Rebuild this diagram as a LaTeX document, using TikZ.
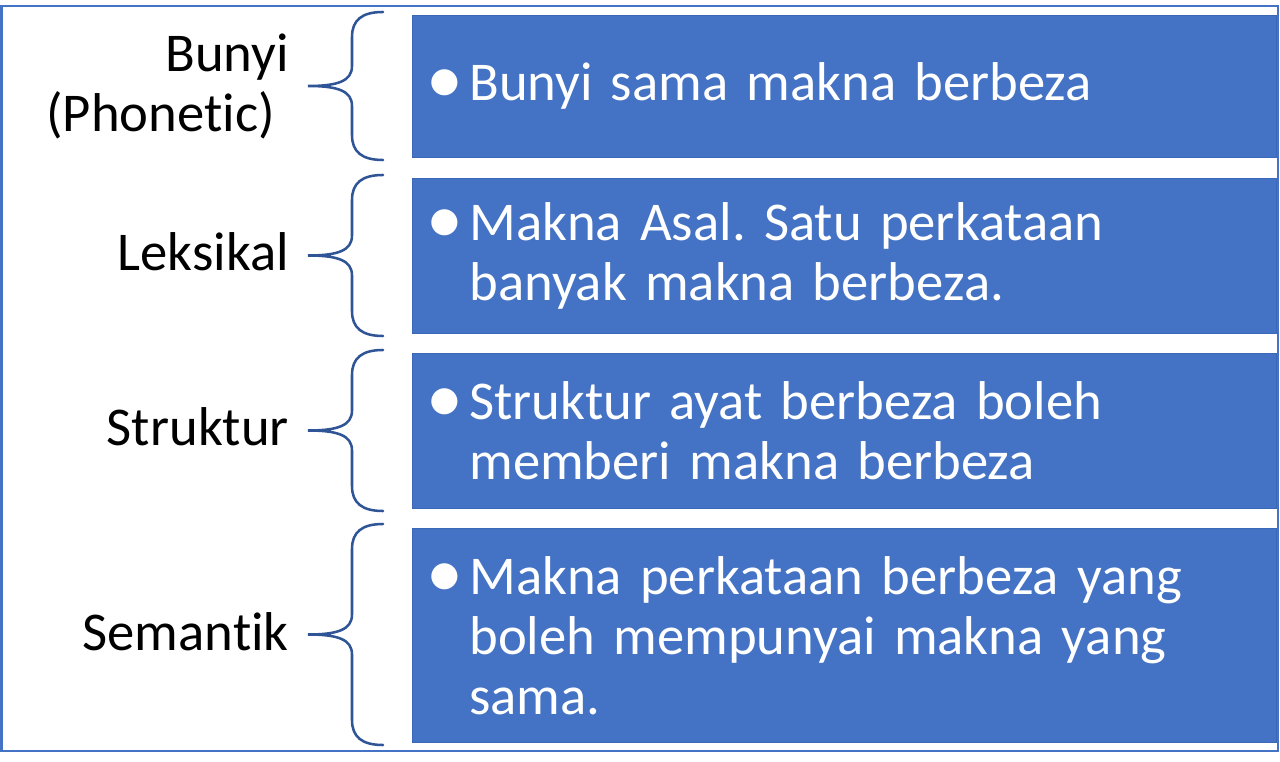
\documentclass[tikz,border=0pt]{standalone}
\usepackage{fontspec}
\setmainfont{Carlito}[Ligatures={NoCommon,NoContextual}]
\usetikzlibrary{positioning}
\definecolor{boxblue}{HTML}{4472C4}
\definecolor{boxline}{HTML}{3B67B7}
\definecolor{bracecol}{HTML}{2F5597}
\newcommand{\bigtext}{\fontsize{41}{45}\selectfont\frenchspacing}
\newcommand{\itm}{\makebox[27.75pt][l]{\kern-4.5pt\raisebox{-2.2pt}{\scalebox{1.35}{\textbullet}}}}
\newcommand{\cnt}{\hspace*{27.75pt}}

\tikzset{
	itembox/.style={anchor=north west, fill=boxblue, draw=boxline, line width=0.6pt, text=white,
		minimum width=648pt, text width=618pt, inner xsep=15pt, inner ysep=0pt, align=left, font=\bigtext},
	sidelabel/.style={align=right, inner sep=0pt, font=\bigtext},
	bracepath/.style={draw=bracecol, line width=1.9pt, line cap=round},
	framebox/.style={draw=boxblue, line width=1.5pt},
}

\begin{document}
\begin{tikzpicture}[x=0.75pt,y=-0.75pt]
	\useasboundingbox (0,0) rectangle (1280,762);
	\draw[framebox] (1.5,6) rectangle (1278,751);
	
	% boxes on the right
	\node[itembox, minimum height=106.5pt] (b1) at (412,15) {\itm Bunyi sama makna berbeza};
	\node[itembox, minimum height=116.25pt] (b2) at (412,178) {\itm Makna Asal. Satu perkataan\\ \cnt banyak makna berbeza.};
	\node[itembox, minimum height=116.25pt] (b3) at (412,353) {\itm Struktur ayat berbeza boleh\\ \cnt memberi makna berbeza};
	\node[itembox, minimum height=160.5pt] (b4) at (412,528) {\itm Makna perkataan berbeza yang\\ \cnt boleh mempunyai makna yang\\ \cnt sama.};
	
	% labels on the left
	\node[sidelabel, anchor=east] (l1) at (289,86) {Bunyi\\(Phonetic)\hspace*{10.5pt}};
	\node[sidelabel, anchor=base east] (l2) at (289,271) {Leksikal};
	\node[sidelabel, anchor=base east] (l3) at (289,445) {Struktur};
	\node[sidelabel, anchor=base east] (l4) at (289,650) {Semantik};
	
	% braces
	\foreach \t/\b in {12/160, 175/336, 350/511, 524/745}{
		\draw[bracepath] (383,\t) .. controls (362,\t) and (352,\t+8) .. (352,\t+25)
			-- (352,{(\t+\b)/2-20}) .. controls (352,{(\t+\b)/2-5}) and (338,{(\t+\b)/2}) .. (308,{(\t+\b)/2})
			.. controls (338,{(\t+\b)/2}) and (352,{(\t+\b)/2+5}) .. (352,{(\t+\b)/2+20})
			-- (352,\b-25) .. controls (352,\b-8) and (362,\b) .. (383,\b);
	}
\end{tikzpicture}
\end{document}
